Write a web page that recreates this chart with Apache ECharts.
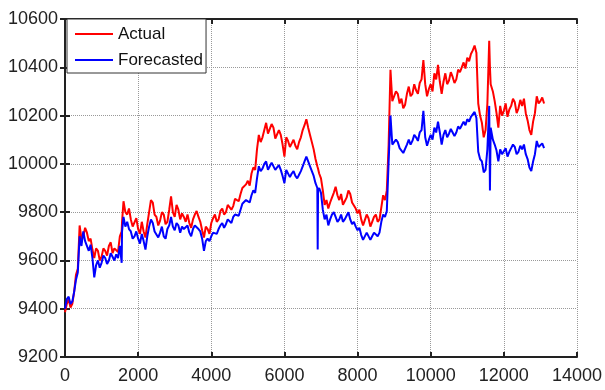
<!DOCTYPE html>
<html>
<head>
<meta charset="utf-8">
<script src="https://cdn.jsdelivr.net/npm/echarts@6/dist/echarts.min.js"></script>
<style>
  html, body { margin: 0; padding: 0; background: #fff; }
  #chart { width: 605px; height: 390px; }
</style>
</head>
<body>
<div id="chart"></div>
<script>
// sample positions (every 50, a few extra points around the spikes)
const steps = [
  0, 50, 100, 150, 200, 250, 300, 350, 400, 450,
  500, 550, 600, 650, 700, 750, 800, 850, 900, 950,
  1000, 1050, 1100, 1150, 1200, 1250, 1300, 1350, 1400, 1450,
  1500, 1550, 1560, 1600, 1650, 1700, 1750, 1800, 1850, 1900, 1950,
  2000, 2050, 2100, 2150, 2200, 2250, 2300, 2350, 2400, 2450,
  2500, 2550, 2600, 2650, 2700, 2750, 2800, 2850, 2900, 2950,
  3000, 3050, 3100, 3150, 3200, 3250, 3300, 3350, 3400, 3450,
  3500, 3550, 3600, 3650, 3700, 3750, 3800, 3850, 3900, 3950,
  4000, 4050, 4100, 4150, 4200, 4250, 4300, 4350, 4400, 4450,
  4500, 4550, 4600, 4650, 4700, 4750, 4800, 4850, 4900, 4950,
  5000, 5050, 5100, 5150, 5200, 5250, 5300, 5350, 5400, 5450,
  5500, 5550, 5600, 5650, 5700, 5750, 5800, 5850, 5900, 5950,
  6000, 6050, 6100, 6150, 6200, 6250, 6300, 6350, 6400, 6450,
  6500, 6550, 6600, 6650, 6700, 6750, 6800, 6850, 6900, 6910, 6920, 6950,
  7000, 7050, 7100, 7150, 7200, 7250, 7300, 7350, 7400, 7450,
  7500, 7550, 7600, 7650, 7700, 7750, 7800, 7850, 7900, 7950,
  8000, 8050, 8100, 8150, 8200, 8250, 8300, 8350, 8400, 8450,
  8500, 8550, 8600, 8650, 8700, 8750, 8800, 8850, 8900, 8950,
  9000, 9050, 9100, 9150, 9200, 9250, 9300, 9350, 9400, 9450,
  9500, 9550, 9600, 9650, 9700, 9750, 9800, 9850, 9900, 9950,
  10000, 10050, 10100, 10150, 10200, 10250, 10300, 10350, 10400, 10450,
  10500, 10550, 10600, 10650, 10700, 10750, 10800, 10850, 10900, 10950,
  11000, 11050, 11100, 11150, 11200, 11250, 11300, 11350, 11400, 11450,
  11500, 11550, 11600, 11620, 11640, 11700, 11750, 11800, 11850, 11900, 11950,
  12000, 12050, 12100, 12150, 12200, 12250, 12300, 12350, 12400, 12450,
  12500, 12550, 12600, 12650, 12700, 12750, 12800, 12850, 12900, 12950,
  13000, 13050, 13100
];

const actual = [
  9385, 9420, 9440, 9405, 9420, 9470, 9540, 9565, 9745, 9690,
  9700, 9735, 9715, 9680, 9690, 9645, 9610, 9650, 9640, 9600,
  9615, 9650, 9640, 9620, 9660, 9675, 9630, 9650, 9655, 9635,
  9700, 9720, 9760, 9845, 9800, 9790, 9815, 9770, 9740, 9745, 9775,
  9730, 9710, 9760, 9720, 9695, 9750, 9800, 9850, 9840, 9790,
  9780, 9745, 9765, 9800, 9790, 9750, 9760, 9810, 9865, 9800,
  9780, 9830, 9810, 9770, 9795, 9780, 9760, 9790, 9755, 9735,
  9770, 9790, 9805, 9780, 9760, 9725, 9695, 9740, 9730, 9710,
  9755, 9775, 9790, 9760, 9770, 9805, 9815, 9790, 9800, 9830,
  9835, 9810, 9825, 9855, 9860, 9845, 9875, 9900, 9895, 9915,
  9930, 9910, 9960, 9985, 9975, 10060, 10120, 10090, 10110, 10140,
  10170, 10125, 10130, 10165, 10150, 10105, 10110, 10140, 10120, 10080,
  10030, 10110, 10095, 10070, 10085, 10100, 10075, 10060, 10090, 10110,
  10140, 10160, 10185, 10150, 10120, 10090, 10060, 10020, 9990, 9985, 9980, 9960,
  9940, 9890, 9830, 9850, 9815, 9840, 9860, 9880, 9905, 9870,
  9850, 9875, 9830, 9845, 9860, 9890, 9875, 9840, 9845, 9815,
  9795, 9810, 9770, 9745, 9750, 9790, 9775, 9740, 9760, 9780,
  9790, 9760, 9770, 9820, 9870, 9850, 9890, 10080, 10390, 10260,
  10260, 10300, 10290, 10250, 10270, 10230, 10245, 10290, 10320, 10280,
  10290, 10330, 10305, 10290, 10335, 10350, 10430, 10330, 10280, 10310,
  10330, 10300, 10375, 10350, 10410, 10340, 10290, 10340, 10375, 10330,
  10345, 10380, 10360, 10335, 10350, 10390, 10380, 10400, 10420, 10395,
  10440, 10425, 10455, 10470, 10490, 10460, 10250, 10200, 10170, 10110,
  10140, 10250, 10510, 10400, 10330, 10300, 10260, 10210, 10150, 10240, 10200,
  10220, 10250, 10195, 10225, 10240, 10270, 10255, 10210, 10230, 10265,
  10240, 10270, 10210, 10180, 10140, 10120, 10175, 10210, 10280, 10250,
  10260, 10275, 10250
];

const forecasted = [
  9400, 9440, 9450, 9420, 9430, 9470, 9520, 9550, 9700, 9660,
  9720, 9680, 9680, 9640, 9665, 9610, 9530, 9580, 9600, 9570,
  9590, 9620, 9610, 9585, 9600, 9630, 9615, 9600, 9625, 9610,
  9660, 9590, 9720, 9780, 9740, 9760, 9730, 9720, 9690, 9700, 9720,
  9690, 9670, 9710, 9680, 9645, 9700, 9740, 9770, 9755, 9720,
  9720, 9695, 9715, 9740, 9700, 9690, 9730, 9745, 9780, 9740,
  9725, 9755, 9745, 9715, 9740, 9730, 9725, 9745, 9715, 9700,
  9730, 9745, 9745, 9730, 9720, 9690, 9640, 9680, 9690, 9680,
  9700, 9715, 9720, 9710, 9730, 9745, 9755, 9735, 9750, 9770,
  9770, 9755, 9780, 9790, 9795, 9785, 9810, 9835, 9840, 9850,
  9855, 9840, 9870, 9890, 9880, 9940, 9990, 9970, 9980, 10000,
  10010, 9975, 9990, 10005, 10000, 9975, 9985, 9995, 9975, 9950,
  9920, 9975, 9970, 9945, 9960, 9970, 9950, 9940, 9955, 9970,
  9990, 10010, 10030, 10010, 9990, 9970, 9950, 9920, 9900, 9645, 9890, 9900,
  9880, 9810, 9770, 9790, 9745, 9770, 9790, 9800, 9780, 9760,
  9770, 9790, 9760, 9770, 9785, 9800, 9770, 9750, 9760, 9740,
  9725, 9735, 9705, 9685, 9690, 9715, 9710, 9685, 9700, 9715,
  9720, 9700, 9715, 9760, 9790, 9780, 9805, 10010, 10200, 10080,
  10080, 10100, 10090, 10065, 10070, 10045, 10050, 10080, 10100, 10080,
  10095, 10120, 10110, 10095, 10130, 10140, 10220, 10110, 10075, 10100,
  10120, 10100, 10150, 10130, 10175, 10130, 10080, 10120, 10140, 10110,
  10125, 10145, 10130, 10115, 10130, 10155, 10145, 10160, 10175, 10160,
  10185, 10175, 10195, 10200, 10215, 10190, 10050, 10020, 10010, 9965,
  9975, 10060, 10240, 9890, 10150, 10100, 10080, 10055, 10010, 10060, 10040,
  10040, 10065, 10030, 10050, 10065, 10080, 10070, 10040, 10050, 10075,
  10060, 10080, 10040, 10020, 9985, 9970, 10010, 10040, 10095, 10070,
  10075, 10085, 10065
];

const xTicks = [0, 2000, 4000, 6000, 8000, 10000, 12000, 14000];
const yTicks = [9200, 9400, 9600, 9800, 10000, 10200, 10400, 10600];

const chart = echarts.init(document.getElementById('chart'));

const labelFont = { fontFamily: 'Liberation Sans, Arial, sans-serif', fontSize: 18, color: '#222' };
const frameLine = { show: true, lineStyle: { color: '#222', width: 2 } };
const innerTick = { show: true, inside: true, length: 5, lineStyle: { color: '#222', width: 2 } };

chart.setOption({
  animation: false,
  grid: { left: 65, right: 26, top: 19, bottom: 33, containLabel: false },
  legend: {
    left: 67, top: 19,
    orient: 'vertical',
    backgroundColor: '#fff',
    borderColor: '#333', borderWidth: 1, borderRadius: 0,
    padding: [5, 3, 3, 8],
    itemGap: 6,
    itemWidth: 38, itemHeight: 2,
    icon: 'rect',
    textStyle: { fontFamily: 'Liberation Sans, Arial, sans-serif', fontSize: 17, color: '#111', lineHeight: 20 },
    data: ['Actual', 'Forecasted']
  },
  xAxis: [
    {
      type: 'value', min: 0, max: 14000, interval: 2000,
      axisLine: frameLine, axisTick: innerTick,
      axisLabel: Object.assign({ margin: 10, formatter: v => xTicks.includes(v) ? String(v) : '' }, labelFont),
      splitLine: { show: true, lineStyle: { color: '#999', type: 'dotted', width: 1 } }
    },
    {
      type: 'value', min: 0, max: 14000, interval: 2000, position: 'top',
      axisLine: frameLine, axisTick: innerTick, axisLabel: { show: false }, splitLine: { show: false }
    }
  ],
  yAxis: [
    {
      type: 'value', min: 9200, max: 10600, interval: 200,
      axisLine: frameLine, axisTick: innerTick,
      axisLabel: Object.assign({ margin: 7, formatter: v => yTicks.includes(v) ? String(v) : '' }, labelFont),
      splitLine: { show: true, lineStyle: { color: '#999', type: 'dotted', width: 1 } }
    },
    {
      type: 'value', min: 9200, max: 10600, interval: 200, position: 'right',
      axisLine: frameLine, axisTick: innerTick, axisLabel: { show: false }, splitLine: { show: false }
    }
  ],
  series: [
    {
      name: 'Actual', type: 'line', showSymbol: false, symbol: 'none',
      color: '#ff0000',
      lineStyle: { color: '#ff0000', width: 2 },
      data: steps.map((x, i) => [x, actual[i]])
    },
    {
      name: 'Forecasted', type: 'line', showSymbol: false, symbol: 'none',
      color: '#0000ff',
      lineStyle: { color: '#0000ff', width: 2 },
      data: steps.map((x, i) => [x, forecasted[i]])
    }
  ]
});
</script>
</body>
</html>
